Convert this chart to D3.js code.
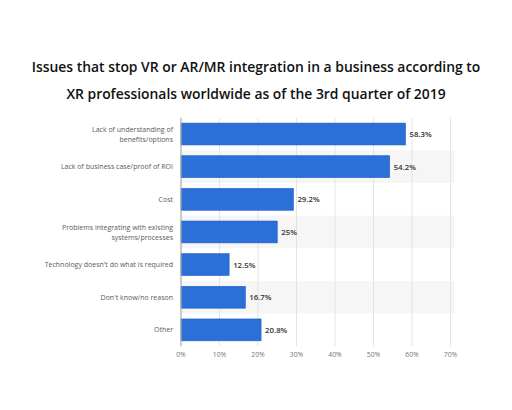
<!DOCTYPE html>
<html><head><meta charset="utf-8">
<script src="https://cdn.jsdelivr.net/npm/d3@7"></script>
<style>body{margin:0;background:#fff}svg{display:block}</style>
</head><body>
<script>
const categories = [
  ["Lack of understanding of", "benefits/options"],
  ["Lack of business case/proof of ROI"],
  ["Cost"],
  ["Problems integrating with existing", "systems/processes"],
  ["Technology doesn't do what is required"],
  ["Don't know/no reason"],
  ["Other"]
];
const values = [58.3, 54.2, 29.2, 25, 12.5, 16.7, 20.8];
const valueLabels = ["58.3%", "54.2%", "29.2%", "25%", "12.5%", "16.7%", "20.8%"];
const ticks = [0, 10, 20, 30, 40, 50, 60, 70];
const titleLines = [
  "Issues that stop VR or AR/MR integration in a business according to",
  "XR professionals worldwide as of the 3rd quarter of 2019"
];

const W = 512, H = 410;
const svg = d3.select("body").append("svg").attr("width", W).attr("height", H);

// title
const title = svg.append("g");
titleLines.forEach((t, i) => {
  title.append("text")
    .attr("x", 256).attr("y", 71.5 + i * 27)
    .attr("text-anchor", "middle")
    .attr("font-family", "'Open Sans', sans-serif")
    .attr("font-weight", 600)
    .attr("font-size", 13.9)
    .attr("fill", "#111")
    .text(t);
});

const x = d3.scaleLinear().domain([0, 70]).range([181, 450.5]);
const y = d3.scaleBand().domain(d3.range(categories.length)).range([117.7, 346.2]).paddingInner(0.33).paddingOuter(0.165);
const step = y.step();

// stripes
svg.append("g").selectAll("rect").data(d3.range(categories.length).filter(i => i % 2 === 1))
  .join("rect")
  .attr("x", x(0)).attr("width", x(70) - x(0) + 4)
  .attr("y", i => 117.7 + i * step).attr("height", step)
  .attr("fill", "#f6f6f6");

// gridlines
svg.append("g").selectAll("line").data(ticks.slice(1)).join("line")
  .attr("x1", d => x(d)).attr("x2", d => x(d))
  .attr("y1", 117.7).attr("y2", 346.2)
  .attr("stroke", "#e4e4e4").attr("stroke-width", 1);

// bars
svg.append("g").selectAll("rect").data(values).join("rect")
  .attr("x", x(0)).attr("y", (d, i) => y(i))
  .attr("width", d => x(d) - x(0)).attr("height", y.bandwidth())
  .attr("fill", "#2a70d8").attr("stroke", "#1d5fc4").attr("stroke-width", 0.6);

// axis line
svg.append("line").attr("x1", x(0)).attr("x2", x(0)).attr("y1", 117.7).attr("y2", 346.2)
  .attr("stroke", "#aaa").attr("stroke-width", 1.2);

// value labels
svg.append("g").selectAll("text").data(values).join("text")
  .attr("x", d => x(d) + 4).attr("y", (d, i) => y(i) + y.bandwidth() / 2 + 3)
  .attr("font-family", "'Open Sans', sans-serif").attr("font-size", 7.8)
  .attr("font-weight", 600)
  .attr("fill", "#333")
  .text((d, i) => valueLabels[i]);

// category labels
const cl = svg.append("g").selectAll("text").data(categories).join("text")
  .attr("text-anchor", "end")
  .attr("font-family", "'Open Sans', sans-serif").attr("font-size", 7.0)
  .attr("fill", "#5a5a5a");
cl.each(function(lines, i) {
  const t = d3.select(this);
  const cy = y(i) + y.bandwidth() / 2;
  lines.forEach((ln, j) => {
    t.append("tspan").attr("x", 173)
      .attr("y", cy + 2.6 + (j - (lines.length - 1) / 2) * 10)
      .text(ln);
  });
});

// x axis tick labels
svg.append("g").selectAll("text").data(ticks).join("text")
  .attr("x", d => x(d)).attr("y", 357)
  .attr("text-anchor", "middle")
  .attr("font-family", "'Open Sans', sans-serif").attr("font-size", 6.8)
  .attr("fill", "#777")
  .text(d => d + "%");
</script>
</body></html>
